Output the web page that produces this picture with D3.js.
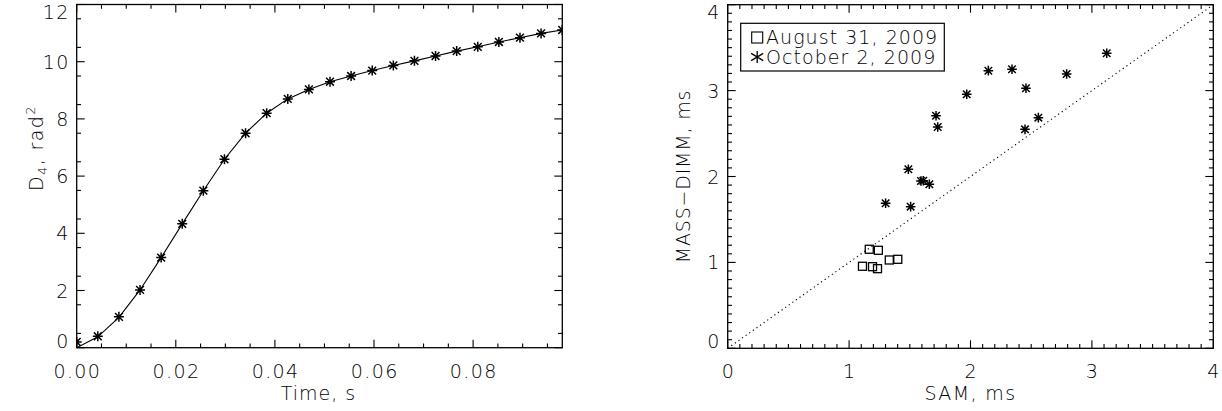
<!DOCTYPE html>
<html>
<head>
<meta charset="utf-8">
<script src="https://cdn.jsdelivr.net/npm/d3@7"></script>
<style>
  html, body { margin: 0; padding: 0; background: #fff; }
  svg text { font-family: "DejaVu Sans", "Liberation Sans", sans-serif; font-weight: 200; fill: #000; letter-spacing: 1.4px; }
</style>
</head>
<body>
<svg id="fig" width="1222" height="411"></svg>
<script>
// Structure function D4 versus time lag
const lagTimes = [0, 0.00426, 0.00852, 0.01278, 0.01704, 0.0213, 0.02556, 0.02982,
  0.03408, 0.03834, 0.0426, 0.04686, 0.05112, 0.05538, 0.05964, 0.0639,
  0.06816, 0.07242, 0.07668, 0.08094, 0.0852, 0.08946, 0.09372, 0.09798];
const d4Measured = [0.2, 0.4, 1.08, 2.02, 3.15, 4.33, 5.49, 6.59, 7.5, 8.2, 8.7, 9.03,
  9.3, 9.5, 9.69, 9.87, 10.03, 10.2, 10.37, 10.52, 10.69, 10.84, 10.99, 11.11];
const d4Model = [0, 0.38, 1.06, 2.02, 3.15, 4.33, 5.49, 6.59, 7.5, 8.2, 8.7, 9.03,
  9.3, 9.5, 9.69, 9.87, 10.03, 10.2, 10.37, 10.52, 10.69, 10.84, 10.99, 11.11];
const leftXTicks = [0, 0.02, 0.04, 0.06, 0.08];
const leftYTicks = [0, 2, 4, 6, 8, 10, 12];

// Time constants: SAM vs MASS-DIMM
const aug31Sam  = [1.166, 1.241, 1.331, 1.401, 1.110, 1.193, 1.234];
const aug31Mass = [1.153, 1.141, 1.028, 1.036, 0.955, 0.950, 0.927];
const oct2Sam  = [1.301, 1.507, 1.488, 1.592, 1.611, 1.661, 1.716, 1.730,
  1.969, 2.147, 2.342, 2.457, 2.449, 2.559, 2.792, 3.122];
const oct2Mass = [1.688, 1.649, 2.084, 1.948, 1.951, 1.909, 2.708, 2.576,
  2.957, 3.232, 3.248, 3.027, 2.549, 2.685, 3.193, 3.434];
const rightTicks = [0, 1, 2, 3, 4];
const legendLabels = ["August 31, 2009", "October 2, 2009"];

const svg = d3.select("#fig");
const ink = "#000";
const FS = 19;

// Asterisk symbol: vertical stroke, horizontal stroke and two diagonals
function asterisk(g, cx, cy, r, w) {
  const d = r * 0.78;
  const p = d3.path();
  p.moveTo(cx - r, cy); p.lineTo(cx + r, cy);
  p.moveTo(cx, cy - r); p.lineTo(cx, cy + r);
  p.moveTo(cx - d, cy - d); p.lineTo(cx + d, cy + d);
  p.moveTo(cx - d, cy + d); p.lineTo(cx + d, cy - d);
  g.append("path").attr("d", p.toString()).attr("stroke", ink)
    .attr("stroke-width", w).attr("fill", "none");
}

// Legend asterisk: vertical stroke and two diagonals
function legendStar(g, cx, cy, r, w) {
  const p = d3.path();
  p.moveTo(cx, cy - r); p.lineTo(cx, cy + r);
  p.moveTo(cx - r, cy - r * 0.6); p.lineTo(cx + r, cy + r * 0.6);
  p.moveTo(cx - r, cy + r * 0.6); p.lineTo(cx + r, cy - r * 0.6);
  g.append("path").attr("d", p.toString()).attr("stroke", ink)
    .attr("stroke-width", w).attr("fill", "none");
}

// Box frame with inward ticks on all four sides
function frame(g, x, y, xMajor, xMinor, yMajor, yMinor, majLen, minLen) {
  const [x0, x1] = x.range(), [y0, y1] = y.range();
  g.append("rect").attr("x", x0).attr("y", y1).attr("width", x1 - x0).attr("height", y0 - y1)
    .attr("fill", "none").attr("stroke", ink).attr("stroke-width", 1.3);
  const tk = g.append("g").attr("stroke", ink).attr("stroke-width", 1.1);
  const xs = [...xMinor.map(v => [v, minLen]), ...xMajor.map(v => [v, majLen])];
  xs.forEach(([v, L]) => {
    const px = x(v);
    tk.append("line").attr("x1", px).attr("x2", px).attr("y1", y0).attr("y2", y0 - L);
    tk.append("line").attr("x1", px).attr("x2", px).attr("y1", y1).attr("y2", y1 + L);
  });
  const ys = [...yMinor.map(v => [v, minLen]), ...yMajor.map(v => [v, majLen])];
  ys.forEach(([v, L]) => {
    const py = y(v);
    tk.append("line").attr("y1", py).attr("y2", py).attr("x1", x0).attr("x2", x0 + L);
    tk.append("line").attr("y1", py).attr("y2", py).attr("x1", x1).attr("x2", x1 - L);
  });
}

function tickLabels(g, x, y, xTicks, yTicks, xFmt, yFmt) {
  const [x0] = x.range(), [y0] = y.range();
  g.selectAll(".xl").data(xTicks).join("text")
    .attr("x", d => x(d) + 0.7).attr("y", y0 + 30).attr("text-anchor", "middle")
    .attr("font-size", FS).text(xFmt);
  g.selectAll(".yl").data(yTicks).join("text")
    .attr("x", x0 - 7).attr("text-anchor", "end").attr("font-size", FS)
    .attr("y", (d, i) => i === 0 ? y(d) : (i === yTicks.length - 1 ? y(d) + 14.5 : y(d) + 7))
    .text(yFmt);
}

// ---------- left panel ----------
{
  const x = d3.scaleLinear().domain([0, 0.098]).range([76.7, 562.3]);
  const y = d3.scaleLinear().domain([0, 12]).range([347.7, 4.5]);
  const g = svg.append("g");
  g.append("clipPath").attr("id", "clipL").append("rect")
    .attr("x", 76.7).attr("y", 4.5).attr("width", 562.3 - 76.7).attr("height", 347.7 - 4.5);

  const xMinor = d3.range(0, 0.0981, 0.005).filter(v => Math.abs(v / 0.02 - Math.round(v / 0.02)) > 1e-6);
  const yMinor = d3.range(0.5, 12, 1);
  frame(g, x, y, leftXTicks, xMinor, leftYTicks, yMinor, 8, 4.3);
  tickLabels(g, x, y, leftXTicks, leftYTicks, d => d3.format(".2f")(d), d => d);

  const plot = g.append("g").attr("clip-path", "url(#clipL)");
  const line = d3.line().x((d, i) => x(lagTimes[i])).y(d => y(d));
  plot.append("path").attr("d", line(d4Model)).attr("fill", "none")
    .attr("stroke", ink).attr("stroke-width", 1.1);
  d4Measured.forEach((v, i) => asterisk(plot, x(lagTimes[i]), y(v), 5, 1.5));

  g.append("text").attr("x", 318.5).attr("y", 400).attr("text-anchor", "middle")
    .attr("font-size", FS).style("letter-spacing", "1px").text("Time,  s");
  const yt = g.append("text").attr("transform", "translate(43,148) rotate(-90)")
    .attr("text-anchor", "middle").attr("font-size", FS);
  yt.append("tspan").text("D");
  yt.append("tspan").attr("font-size", 13).attr("dy", 4).text("4");
  yt.append("tspan").attr("dy", -4).text(",  rad");
  yt.append("tspan").attr("font-size", 13).attr("dy", -8).text("2");
}

// ---------- right panel ----------
{
  const x = d3.scaleLinear().domain([0, 4]).range([727.7, 1213.3]);
  const y = d3.scaleLinear().domain([0, 4]).range([348.3, 4.7]);
  const g = svg.append("g");
  const minor = d3.range(0.1, 4, 0.1).filter(v => Math.abs(v - Math.round(v)) > 1e-6);
  frame(g, x, y, rightTicks, minor, rightTicks, minor, 8, 4.3);
  tickLabels(g, x, y, rightTicks, rightTicks, d => d, d => d);

  // one-to-one reference line
  g.append("line").attr("x1", x(0)).attr("y1", y(0)).attr("x2", x(4)).attr("y2", y(4))
    .attr("stroke", ink).attr("stroke-width", 1.1).attr("stroke-dasharray", "1.2,3.2");

  aug31Sam.forEach((s, i) => {
    g.append("rect").attr("x", x(s) - 4).attr("y", y(aug31Mass[i]) - 4)
      .attr("width", 8).attr("height", 8).attr("fill", "none")
      .attr("stroke", ink).attr("stroke-width", 1.3);
  });
  oct2Sam.forEach((s, i) => asterisk(g, x(s), y(oct2Mass[i]), 4.8, 1.5));

  // legend
  g.append("rect").attr("x", 740.7).attr("y", 23.3).attr("width", 944.3 - 740.7).attr("height", 71 - 23.3)
    .attr("fill", "#fff").attr("stroke", ink).attr("stroke-width", 1.2);
  g.append("rect").attr("x", 751.7).attr("y", 32).attr("width", 11).attr("height", 11)
    .attr("fill", "none").attr("stroke", ink).attr("stroke-width", 1.1);
  legendStar(g, 757.2, 57, 6, 1.3);
  legendLabels.forEach((t, i) => {
    g.append("text").attr("x", 766).attr("y", 43.5 + i * 20).attr("font-size", FS)
      .style("letter-spacing", "1.05px").text(t);
  });

  g.append("text").attr("x", 970.5).attr("y", 400).attr("text-anchor", "middle")
    .attr("font-size", FS).text("SAM,  ms");
  g.append("text").attr("transform", "translate(690,176.5) rotate(-90)")
    .attr("text-anchor", "middle").attr("font-size", FS).style("letter-spacing", "0.8px")
    .text("MASS\u2212DIMM,  ms");
}
</script>
</body>
</html>
